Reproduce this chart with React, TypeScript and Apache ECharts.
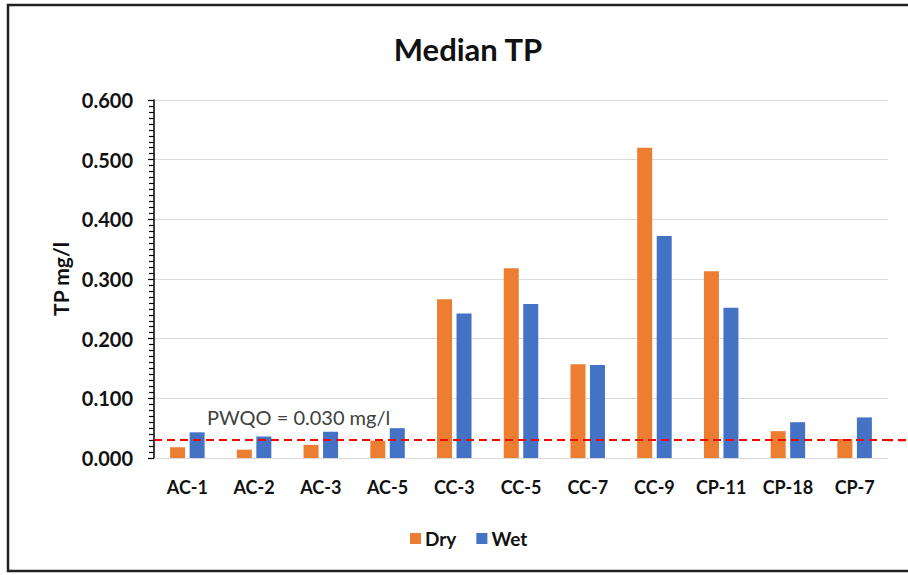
import React, { useEffect, useRef } from "react";
import * as echarts from "echarts";

const categories = ["AC-1", "AC-2", "AC-3", "AC-5", "CC-3", "CC-5", "CC-7", "CC-9", "CP-11", "CP-18", "CP-7"];
const dryValues = [0.018, 0.014, 0.022, 0.029, 0.266, 0.318, 0.157, 0.52, 0.313, 0.045, 0.032];
const wetValues = [0.043, 0.036, 0.044, 0.05, 0.242, 0.258, 0.156, 0.372, 0.252, 0.06, 0.068];
const pwqoValue = 0.03;
const pwqoLabel = "PWQO = 0.030 mg/l";
const titleText = "Median TP";
const yAxisName = "TP mg/l";

const FONT = "Lato, 'Open Sans', sans-serif";

export default function App() {
  const ref = useRef<HTMLDivElement>(null);
  useEffect(() => {
    if (!ref.current) return;
    const chart = echarts.init(ref.current, null, { renderer: "svg" });
    chart.setOption({
      animation: false,
      backgroundColor: "#ffffff",
      textStyle: { fontFamily: FONT },
      title: {
        text: titleText,
        left: 463,
        textAlign: "center",
        top: 28,
        textStyle: { fontFamily: FONT, fontSize: 31, fontWeight: "bold", color: "#111" },
      },
      legend: {
        left: 405,
        top: 524,
        itemWidth: 11,
        itemHeight: 11,
        itemGap: 20,
        icon: "rect",
        textStyle: { fontFamily: FONT, fontSize: 19, fontWeight: "bold", color: "#111", padding: [0, 0, 0, -1] },
        data: ["Dry", "Wet"],
      },
      grid: { left: 154, right: 20, top: 100, bottom: 117 },
      xAxis: {
        type: "category",
        data: categories,
        axisLine: { show: true, lineStyle: { color: "#d9d9d9", width: 1 } },
        axisTick: { show: false },
        axisLabel: { margin: 20, fontFamily: FONT, fontSize: 18, fontWeight: "bold", color: "#111", interval: 0 },
      },
      yAxis: {
        type: "value",
        min: 0,
        max: 0.6,
        interval: 0.1,
        name: yAxisName,
        nameLocation: "middle",
        nameRotate: 90,
        nameGap: 83,
        nameTextStyle: { fontFamily: FONT, fontSize: 21, fontWeight: "bold", color: "#111" },
        axisLine: { show: true, lineStyle: { color: "#000", width: 1.5 } },
        axisTick: { show: true, inside: false, length: 6, lineStyle: { color: "#000", width: 1.2 } },
        minorTick: { show: true, splitNumber: 10, length: 5, lineStyle: { color: "#000", width: 1.2 } },
        splitLine: { show: true, lineStyle: { color: "#d9d9d9", width: 1.2 } },
        axisLabel: {
          margin: 21,
          fontFamily: FONT,
          fontSize: 20,
          fontWeight: "bold",
          color: "#111",
          formatter: (v: number) => v.toFixed(3),
        },
      },
      series: [
        {
          name: "Dry",
          type: "bar",
          data: dryValues,
          barWidth: 15,
          barGap: "30%",
          itemStyle: { color: "#ED7D31" },
          markLine: {
            silent: true,
            symbol: "none",
            label: { show: false },
            lineStyle: { color: "#ff0000", width: 2.2, type: [8, 5] },
            data: [{ yAxis: pwqoValue }],
          },
        },
        {
          name: "Wet",
          type: "bar",
          data: wetValues,
          barWidth: 15,
          itemStyle: { color: "#4472C4" },
        },
      ],
      graphic: [
        {
          id: "border",
          type: "rect",
          shape: { x: 8, y: 5, width: 920, height: 566 },
          style: { fill: "none", stroke: "#222", lineWidth: 2.5 },
          silent: true,
        },
        {
          id: "pwqoText",
          type: "text",
          left: 207,
          top: 407,
          style: { text: pwqoLabel, fontFamily: FONT, fontSize: 20, fill: "#404040" },
          silent: true,
        },
      ],
    });
    // extend the PWQO reference line past the plot's right edge, positioned via the y scale
    const yPix = chart.convertToPixel({ yAxisIndex: 0 }, pwqoValue) as number;
    if (typeof yPix === "number" && isFinite(yPix)) {
      chart.setOption({
        graphic: [
          {
            id: "pwqoExt",
            type: "line",
            shape: { x1: 888, y1: yPix, x2: 908, y2: yPix },
            style: { stroke: "#ff0000", lineWidth: 2.2, lineDash: [8, 5], lineDashOffset: 3 },
            silent: true,
          },
        ],
      });
    }
    return () => chart.dispose();
  }, []);
  return (
    <div
      ref={ref}
      style={{ position: "fixed", left: 0, top: 0, width: 908, height: 575 }}
    />
  );
}
